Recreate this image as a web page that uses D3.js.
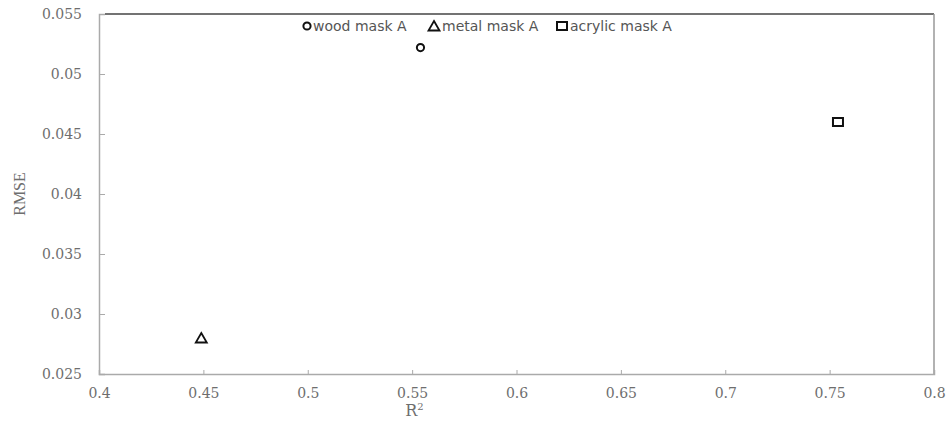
<!DOCTYPE html>
<html>
<head>
<meta charset="utf-8">
<script src="https://cdn.jsdelivr.net/npm/d3@7"></script>
<style>
  body { margin: 0; background: #fff; }
</style>
</head>
<body>
<div id="chart"></div>
<script>
// series data
const series = ['wood mask A', 'metal mask A', 'acrylic mask A'];
const symbols = ['circle', 'triangle', 'square'];
const r2Values = [0.554, 0.449, 0.754];
const rmseValues = [0.0522, 0.028, 0.046];

// tick labels
const xTicks = [0.4, 0.45, 0.5, 0.55, 0.6, 0.65, 0.7, 0.75, 0.8];
const yTicks = [0.025, 0.03, 0.035, 0.04, 0.045, 0.05, 0.055];

const width = 947, height = 421;
const margin = {top: 14, right: 13, bottom: 47, left: 99};
const serif = '"DejaVu Serif", serif';

const svg = d3.select('#chart').append('svg')
  .attr('width', width)
  .attr('height', height);

const x = d3.scaleLinear().domain([0.4, 0.8]).range([margin.left, width - margin.right]);
const y = d3.scaleLinear().domain([0.025, 0.055]).range([height - margin.bottom, margin.top]);

// frame: top dark, right gray
svg.append('line')
  .attr('x1', x(0.4) + 6).attr('x2', x(0.8))
  .attr('y1', y(0.055)).attr('y2', y(0.055))
  .attr('stroke', '#444').attr('stroke-width', 1.5);
svg.append('line')
  .attr('x1', x(0.8)).attr('x2', x(0.8))
  .attr('y1', y(0.055)).attr('y2', y(0.025))
  .attr('stroke', '#999').attr('stroke-width', 1.5);

// axes
const xAxis = svg.append('g')
  .attr('transform', `translate(0,${y(0.025)})`)
  .call(d3.axisBottom(x).tickValues(xTicks).tickSize(-4).tickPadding(12).tickFormat(d3.format('')));
const yAxis = svg.append('g')
  .attr('transform', `translate(${x(0.4)},0)`)
  .call(d3.axisLeft(y).tickValues(yTicks).tickSize(-6).tickPadding(17).tickFormat(d3.format('')));

[xAxis, yAxis].forEach(a => {
  a.select('.domain').attr('stroke', '#aaa').attr('stroke-width', 1.5);
  a.selectAll('.tick line').attr('stroke', '#aaa');
  a.selectAll('.tick text')
    .style('font-family', serif).style('font-size', '14px').style('fill', '#6e6e6e');
});
xAxis.selectAll('.tick text').attr('dy', '0.85em');

// axis titles
svg.append('text')
  .attr('x', x(0.6) - 102).attr('y', 416)
  .attr('text-anchor', 'middle')
  .style('font-family', serif).style('font-size', '16px').style('fill', '#6e6e6e')
  .html('R<tspan font-size="10" dy="-6">2</tspan>');
svg.append('text')
  .attr('transform', `translate(25,${(y(0.025) + y(0.055)) / 2}) rotate(-90)`)
  .attr('text-anchor', 'middle')
  .style('font-family', '"Liberation Serif", serif').style('font-size', '16px').style('fill', '#6e6e6e')
  .text('RMSE');

function drawSymbol(g, type) {
  if (type === 'circle') {
    g.append('circle').attr('r', 3.6).attr('fill', 'none').attr('stroke', '#111').attr('stroke-width', 2);
  } else if (type === 'triangle') {
    g.append('path').attr('d', 'M0,-5L5.5,4.5L-5.5,4.5Z').attr('fill', 'none').attr('stroke', '#111').attr('stroke-width', 1.8);
  } else {
    g.append('rect').attr('x', -5).attr('y', -4).attr('width', 10).attr('height', 8)
      .attr('fill', 'none').attr('stroke', '#111').attr('stroke-width', 2);
  }
}

// points
series.forEach((s, i) => {
  const g = svg.append('g').attr('transform', `translate(${x(r2Values[i])},${y(rmseValues[i])})`);
  drawSymbol(g, symbols[i]);
});

// legend
const legendX = [307, 434, 562];
series.forEach((s, i) => {
  const g = svg.append('g').attr('transform', `translate(${legendX[i]},26)`);
  drawSymbol(g, symbols[i]);
  g.append('text')
    .attr('x', i === 0 ? 6 : 8).attr('y', 5)
    .style('font-family', '"DejaVu Sans", sans-serif').style('font-size', '14px').style('fill', '#555')
    .text(s);
});
</script>
</body>
</html>
